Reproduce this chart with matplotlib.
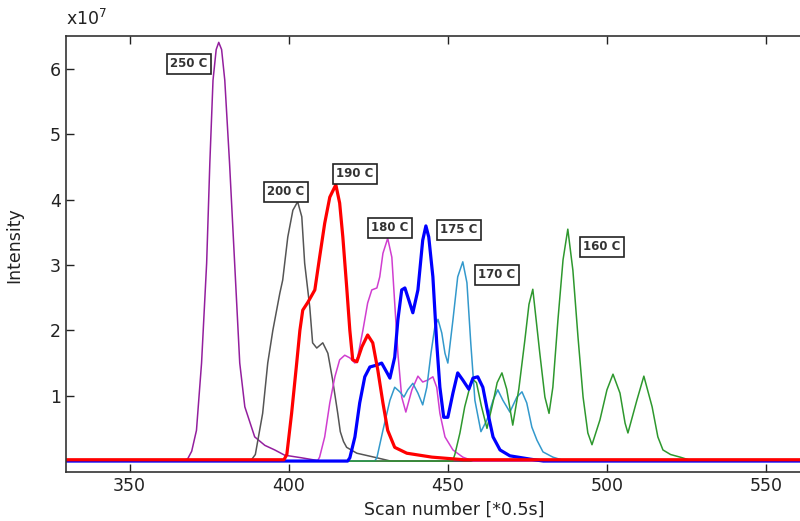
import matplotlib.pyplot as plt

# intensities in units of 1e7, x in scan number
x250 = [330, 366, 368.2, 369.5, 371, 372.6, 374.2, 375.2, 376.2, 377.2, 378.0, 378.9, 379.9, 381.4, 383.0, 384.6, 386.2, 389.3, 392.5, 395.6, 398.7, 404, 410, 562]
y250 = [0, 0, 0.03, 0.15, 0.47, 1.5, 3.03, 4.56, 5.83, 6.3, 6.41, 6.3, 5.83, 4.56, 3.03, 1.5, 0.83, 0.37, 0.24, 0.17, 0.09, 0.05, 0, 0]

x200 = [330, 388, 389.5, 391.8, 393.4, 395.0, 397.2, 398.1, 399.7, 401.3, 402.8, 404.1, 405.0, 406.6, 407.5, 408.8, 410.7, 412.3, 413.8, 415.4, 416.2, 417.2, 418.2, 421.4, 427.7, 432, 562]
y200 = [0, 0, 0.1, 0.73, 1.5, 2.0, 2.57, 2.77, 3.43, 3.84, 3.97, 3.74, 3.03, 2.36, 1.81, 1.73, 1.81, 1.65, 1.24, 0.73, 0.45, 0.3, 0.21, 0.12, 0.05, 0, 0]

x190 = [330, 398.5, 399.4, 400.9, 402.5, 403.5, 404.4, 406.0, 408.2, 409.7, 411.3, 412.9, 414.8, 416.0, 417.0, 418.2, 419.2, 420.1, 421.4, 423.0, 424.8, 426.4, 428.0, 429.6, 431.1, 433.3, 437.1, 445, 455, 562]
y190 = [0.02, 0.02, 0.1, 0.73, 1.5, 2.0, 2.31, 2.43, 2.62, 3.12, 3.64, 4.04, 4.23, 3.95, 3.43, 2.67, 2.0, 1.55, 1.52, 1.75, 1.93, 1.81, 1.39, 0.89, 0.47, 0.21, 0.12, 0.06, 0.02, 0.02]

x180 = [330, 409, 409.7, 411.3, 412.9, 414.5, 416.0, 417.6, 419.2, 420.8, 421.7, 423.3, 424.8, 426.1, 427.7, 428.6, 429.6, 431.1, 432.4, 433.3, 434.3, 435.5, 436.8, 438.7, 440.6, 442.1, 443.7, 445.3, 446.5, 447.5, 449.1, 451.6, 454.7, 458, 562]
y180 = [0, 0, 0.06, 0.37, 0.89, 1.29, 1.55, 1.62, 1.58, 1.5, 1.6, 2.0, 2.42, 2.62, 2.65, 2.82, 3.18, 3.41, 3.12, 2.42, 1.65, 0.98, 0.75, 1.09, 1.30, 1.21, 1.24, 1.29, 1.13, 0.73, 0.37, 0.17, 0.06, 0, 0]

x175 = [330, 418.5, 419.2, 420.8, 422.3, 423.9, 425.5, 427.7, 429.2, 430.8, 431.8, 433.3, 434.3, 435.5, 436.5, 437.5, 439.0, 440.6, 442.1, 443.1, 444.0, 445.3, 446.5, 447.5, 448.7, 450.0, 451.6, 453.1, 454.7, 456.6, 457.9, 459.4, 461.0, 462.6, 464.2, 466.4, 469.5, 475.8, 480, 562]
y175 = [0, 0, 0.05, 0.37, 0.89, 1.29, 1.44, 1.47, 1.50, 1.36, 1.27, 1.59, 2.16, 2.62, 2.65, 2.5, 2.27, 2.62, 3.38, 3.60, 3.43, 2.82, 1.81, 1.13, 0.67, 0.67, 1.04, 1.35, 1.24, 1.1, 1.27, 1.29, 1.13, 0.73, 0.37, 0.17, 0.08, 0.03, 0, 0]

x170 = [330, 427, 427.7, 429.6, 431.8, 433.3, 434.9, 436.2, 437.4, 439.0, 440.6, 442.1, 443.4, 444.7, 445.9, 446.9, 448.1, 449.1, 450.0, 451.6, 453.1, 454.7, 456.0, 457.2, 458.5, 460.4, 462.3, 464.2, 465.7, 467.3, 469.5, 471.7, 473.3, 474.8, 476.4, 478.0, 479.9, 483.0, 487, 562]
y170 = [0, 0, 0.05, 0.47, 0.93, 1.13, 1.06, 0.98, 1.09, 1.19, 1.04, 0.86, 1.13, 1.65, 2.05, 2.17, 1.96, 1.65, 1.5, 2.16, 2.82, 3.05, 2.73, 1.81, 0.93, 0.45, 0.63, 0.93, 1.09, 0.93, 0.75, 0.98, 1.06, 0.89, 0.52, 0.32, 0.14, 0.06, 0, 0]

x160 = [330, 451.5, 452.2, 453.8, 455.3, 456.9, 457.9, 459.0, 460.5, 462.3, 464.2, 465.5, 467.0, 468.5, 470.4, 472.3, 474.2, 475.5, 476.7, 478.9, 480.5, 481.8, 483.0, 484.6, 486.2, 487.7, 489.3, 490.9, 492.5, 494.0, 495.3, 497.8, 500.0, 501.9, 504.1, 505.7, 506.6, 509.4, 511.6, 514.2, 516.0, 517.6, 520.0, 523.0, 527, 562]
y160 = [0, 0, 0.1, 0.43, 0.83, 1.13, 1.25, 1.2, 0.85, 0.5, 0.9, 1.2, 1.35, 1.1, 0.55, 1.1, 1.85, 2.4, 2.63, 1.65, 0.98, 0.73, 1.13, 2.16, 3.08, 3.55, 2.92, 1.9, 0.98, 0.43, 0.25, 0.63, 1.09, 1.33, 1.04, 0.58, 0.43, 0.93, 1.30, 0.83, 0.37, 0.17, 0.1, 0.06, 0, 0]

labels = ['250 C', '200 C', '190 C', '180 C', '175 C', '170 C', '160 C']
label_x = [368.7, 399.1, 420.8, 431.8, 453.5, 465.4, 498.4]
label_y = [6.08, 4.12, 4.40, 3.57, 3.54, 2.85, 3.28]

fig = plt.figure(figsize=(8, 5.21), dpi=100)
ax = fig.add_axes([0.0825, 0.094, 0.92, 0.837])

ax.plot(x250, y250, color='#931f9e', lw=1.1)
ax.plot(x200, y200, color='#555555', lw=1.1)
ax.plot(x180, y180, color='#d03ed0', lw=1.1)
ax.plot(x170, y170, color='#3399cc', lw=1.1)
ax.plot(x160, y160, color='#2e982e', lw=1.1)
ax.plot(x175, y175, color='#0000ff', lw=2.3)
ax.plot(x190, y190, color='#ff0000', lw=2.3)

for t, lx, ly in zip(labels, label_x, label_y):
	ax.text(lx, ly, t, fontsize=8.5, fontweight='bold', color='#333333', ha='center', va='center',
		bbox=dict(boxstyle='square,pad=0.3', fc='white', ec='#222222', lw=1.2))

ax.set_xlim(330, 561.3)
ax.set_ylim(-0.168, 6.508)
ax.set_xticks([350, 400, 450, 500, 550])
ax.set_yticks([1, 2, 3, 4, 5, 6])
ax.tick_params(direction='in', length=6, width=1, top=True, labelsize=12.5, colors='#222222')
for s in ax.spines.values():
	s.set_color('#333333')
	s.set_linewidth(1.2)
ax.spines['right'].set_visible(False)

ax.text(0.0, 1.015, 'x10$^7$', transform=ax.transAxes, fontsize=12.5, color='#222222', ha='left', va='bottom')
ax.set_xlabel('Scan number [*0.5s]', fontsize=12.5, color='#222222')
ax.xaxis.set_label_coords(0.528, -0.065)
ax.set_ylabel('Intensity', fontsize=12.5, color='#222222')
ax.yaxis.set_label_coords(-0.058, 0.52)

plt.savefig('out.png', dpi=100)
